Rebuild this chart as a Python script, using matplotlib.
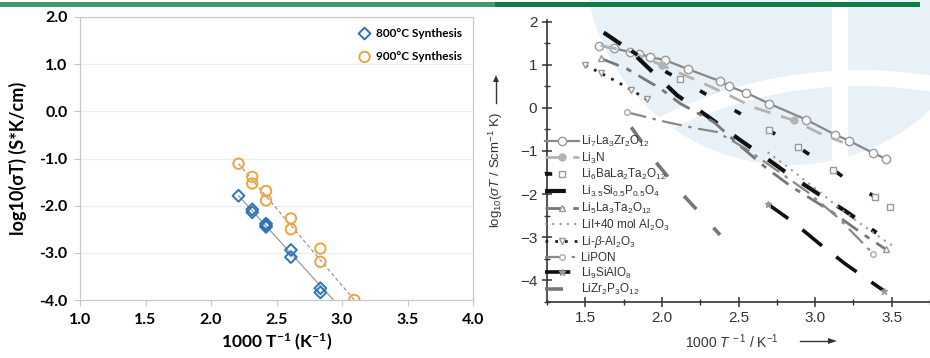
# plot.py - conductivity comparison: own samples (left) vs literature Arrhenius plot (right)
import matplotlib
matplotlib.use('Agg')
import matplotlib.pyplot as plt
from matplotlib.patches import Rectangle, Circle, Wedge
from matplotlib.ticker import MultipleLocator, FormatStrFormatter

W, H = 930, 358
plt.rcParams['mathtext.fontset'] = 'custom'
plt.rcParams['mathtext.rm'] = 'Liberation Sans'
plt.rcParams['mathtext.it'] = 'Liberation Sans:italic'
plt.rcParams['mathtext.bf'] = 'Lato:bold'

# ---- left panel: our synthesis runs ----
x800 = [2.21, 2.315, 2.315, 2.42, 2.42, 2.42, 2.61, 2.61, 2.835, 2.835]
y800 = [-1.79, -2.08, -2.14, -2.38, -2.42, -2.45, -2.94, -3.09, -3.75, -3.84]
x900 = [2.21, 2.315, 2.315, 2.42, 2.42, 2.61, 2.61, 2.835, 2.835, 3.094]
y900 = [-1.11, -1.39, -1.53, -1.69, -1.89, -2.27, -2.50, -2.91, -3.19, -4.00]
fit800_x = [2.21, 2.934]
fit800_y = [-1.79, -4.00]
fit900_x = [2.21, 3.094]
fit900_y = [-1.11, -4.00]

# ---- right panel: literature electrolytes ----
llzo_x = [1.59, 1.69, 1.79, 1.85, 1.92, 2.02, 2.17, 2.38, 2.44, 2.55, 2.70, 2.94, 3.13, 3.22, 3.38, 3.46]
llzo_y = [1.44, 1.38, 1.30, 1.26, 1.18, 1.11, 0.90, 0.62, 0.50, 0.35, 0.10, -0.27, -0.62, -0.76, -1.05, -1.18]
li3n_x = [1.60, 1.80, 2.00, 2.20, 2.40, 2.60, 2.86, 3.03, 3.18]
li3n_y = [1.45, 1.30, 0.99, 0.68, 0.36, 0.01, -0.29, -0.59, -0.80]
li6ba_x = [1.80, 2.04, 2.12, 2.35, 2.61, 2.70, 2.82, 2.89, 3.02, 3.12, 3.24, 3.39, 3.49]
li6ba_y = [1.32, 0.81, 0.66, 0.19, -0.33, -0.52, -0.80, -0.91, -1.22, -1.44, -1.75, -2.06, -2.29]
lisip_x = [1.62, 1.79, 1.97, 2.10, 2.30, 2.50, 2.69, 2.85, 3.04, 3.20, 3.40]
lisip_y = [1.75, 1.34, 0.73, 0.29, -0.20, -0.72, -1.19, -1.60, -2.04, -2.40, -2.90]
li5la_x = [1.60, 1.77, 1.99, 2.12, 2.34, 2.50, 2.69, 2.85, 3.10, 3.30, 3.46]
li5la_y = [1.15, 0.91, 0.45, 0.10, -0.33, -0.85, -1.42, -1.84, -2.39, -2.90, -3.28]
lii_x = [2.69, 2.85, 2.99, 3.15, 3.30, 3.52]
lii_y = [-1.03, -1.45, -1.84, -2.30, -2.70, -3.24]
beta_x = [1.50, 1.60, 1.70, 1.80, 1.90]
beta_y = [0.99, 0.81, 0.62, 0.42, 0.20]
lipon_x = [1.77, 2.03, 2.23, 2.36, 2.55, 2.75, 2.95, 3.15, 3.38]
lipon_y = [-0.10, -0.33, -0.48, -0.56, -0.95, -1.45, -1.95, -2.55, -3.39]
li9_x = [2.69, 2.86, 3.03, 3.20, 3.45]
li9_y = [-2.23, -2.66, -3.16, -3.63, -4.25]
lizr_x = [1.80, 1.97, 2.12, 2.38]
lizr_y = [-0.45, -1.30, -1.95, -2.95]


def px(x, y):
    # top-left pixel -> inches from bottom-left
    return x / 100, (H - y) / 100


fig = plt.figure(figsize=(W / 100, H / 100), dpi=100)
inch = fig.dpi_scale_trans

# green header bar
fig.add_artist(Rectangle(px(0, 7), 4.95, 0.05, transform=inch, color='#3f9d6c', lw=0, zorder=5))
fig.add_artist(Rectangle(px(495, 7), 4.25, 0.05, transform=inch, color='#127a46', lw=0, zorder=5))

# faint logo watermark behind the right figure
fig.add_artist(Circle(px(790, -40), 2.05, transform=inch, color='#e8f0f8', lw=0, zorder=-2))
fig.add_artist(Rectangle(px(832, 175), 0.16, 1.8, transform=inch, color='white', lw=0, zorder=-1))
fig.add_artist(Wedge(px(860, 520), 4.5, 60, 120, width=0.16, transform=inch, color='white', lw=0, zorder=-1))

# ---------------- left axes ----------------
ax = fig.add_axes([80 / W, (H - 300) / H, 393 / W, 283 / H])
bold = dict(family=['Lato', 'DejaVu Sans'], weight='bold')
ax.plot(fit800_x, fit800_y, color='#9a9a9a', lw=0.9, zorder=2)
ax.plot(fit900_x, fit900_y, color='#9a9a9a', lw=0.9, ls=(0, (3, 2)), zorder=2)
ax.scatter(x800, y800, marker='D', s=36, facecolors='none', edgecolors='#2e75b6', lw=1.4,
           label='800°C Synthesis', zorder=3)
ax.scatter(x900, y900, marker='o', s=56, facecolors='none', edgecolors='#f0a33c', lw=1.4,
           label='900°C Synthesis', zorder=3)
ax.set_xlim(1.0, 4.0)
ax.set_ylim(-4.0, 2.0)
ax.xaxis.set_major_locator(MultipleLocator(0.5))
ax.yaxis.set_major_locator(MultipleLocator(1.0))
ax.xaxis.set_major_formatter(FormatStrFormatter('%.1f'))
ax.yaxis.set_major_formatter(FormatStrFormatter('%.1f'))
ax.grid(axis='y', color='#ececec', lw=0.8)
ax.set_axisbelow(True)
for s in ax.spines.values():
    s.set_color('#c8c8c8')
    s.set_linewidth(0.9)
ax.tick_params(length=4, color='#c8c8c8', labelsize=11, pad=5)
for t in ax.get_xticklabels() + ax.get_yticklabels():
    t.set_fontproperties(matplotlib.font_manager.FontProperties(family=['Lato', 'DejaVu Sans'],
                                                                weight='bold', size=11.5))
ax.set_ylabel('log10(σT) (S*K/cm)', fontsize=13, labelpad=9, **bold)
ax.set_xlabel(r'1000 T$^{\mathbf{-1}}$ (K$^{\mathbf{-1}}$)', fontsize=12.5, labelpad=4, **bold)
ax.legend(loc='upper right', frameon=False, handletextpad=0.0, labelspacing=1.05,
          borderaxespad=0.5, prop=dict(family=['Lato', 'DejaVu Sans'], weight='bold', size=8.5))

# ---------------- right axes ----------------
ax2 = fig.add_axes([547 / W, (H - 301.7) / H, 383 / W, 282.1 / H])
ax2.set_facecolor('none')
series = [
    (llzo_x, llzo_y, r'Li$_7$La$_3$Zr$_2$O$_{12}$',
     dict(color='#888888', lw=1.6, ls='-', marker='o', ms=6, mfc='white', mec='#999999', markevery=None)),
    (li3n_x, li3n_y, r'Li$_3$N',
     dict(color='#b3b3b3', lw=2.0, ls=(0, (6, 4)), marker='o', ms=5, mfc='#b3b3b3', mec='#b3b3b3',
          markevery=[2, 6])),
    (li6ba_x, li6ba_y, r'Li$_6$BaLa$_2$Ta$_2$O$_{12}$',
     dict(color='#111111', lw=2.6, ls=(0, (2, 9)), marker='s', ms=4, mfc='white', mec='#999999',
          markevery=[2, 5, 7, 9, 11, 12])),
    (lisip_x, lisip_y, r'Li$_{3.5}$Si$_{0.5}$P$_{0.5}$O$_4$',
     dict(color='#111111', lw=3.0, ls=(0, (5, 5)), marker=None)),
    (li5la_x, li5la_y, r'Li$_5$La$_3$Ta$_2$O$_{12}$',
     dict(color='#777777', lw=2.0, ls=(0, (7, 3, 2, 3)), marker='^', ms=5, mfc='white', mec='#999999',
          markevery=[0, 10])),
    (lii_x, lii_y, r'LiI+40 mol Al$_2$O$_3$',
     dict(color='#999999', lw=1.5, ls=(0, (1, 2.5)), marker=None)),
    (beta_x, beta_y, r'Li-$\beta$-Al$_2$O$_3$',
     dict(color='#222222', lw=2.0, ls=(0, (1, 2.5)), marker='v', ms=5, mfc='white', mec='#999999',
          markevery=[0, 1, 3, 4])),
    (lipon_x, lipon_y, r'LiPON',
     dict(color='#888888', lw=1.6, ls=(0, (9, 3, 1.5, 3)), marker='o', ms=4, mfc='white', mec='#aaaaaa',
          markevery=[0, 8])),
    (li9_x, li9_y, r'Li$_9$SiAlO$_8$',
     dict(color='#111111', lw=2.6, ls=(0, (7, 5)), marker='*', ms=5, mfc='#999999', mec='#999999',
          markevery=[0, 4])),
    (lizr_x, lizr_y, r'LiZr$_2$P$_3$O$_{12}$',
     dict(color='#777777', lw=2.6, ls=(0, (5, 7)), marker=None)),
]
for xs, ys, lab, st in series:
    ax2.plot(xs, ys, label=lab, **st)

ax2.set_xlim(1.25, 3.75)
ax2.set_ylim(-4.5, 2.05)
ax2.xaxis.set_major_locator(MultipleLocator(0.5))
ax2.xaxis.set_minor_locator(MultipleLocator(0.25))
ax2.yaxis.set_major_locator(MultipleLocator(1.0))
ax2.yaxis.set_minor_locator(MultipleLocator(0.5))
ax2.xaxis.set_major_formatter(FormatStrFormatter('%.1f'))
for side in ('top', 'right'):
    ax2.spines[side].set_visible(False)
for side in ('left', 'bottom'):
    ax2.spines[side].set_color('#333333')
    ax2.spines[side].set_linewidth(1.2)
ax2.tick_params(which='major', direction='inout', length=7, width=1.1, color='#333333',
                labelsize=11, labelcolor='#333333', labelfontfamily='Liberation Sans')
ax2.tick_params(which='minor', direction='inout', length=4, width=1.0, color='#333333')
ax2.tick_params(axis='x', pad=3)

leg = ax2.legend(loc='lower left', bbox_to_anchor=(-0.005, 0.015), frameon=False, borderpad=0,
                 borderaxespad=0, handlelength=2.9, handletextpad=0.15, labelspacing=0.14,
                 numpoints=1, prop=dict(family='Liberation Sans', size=8.5))
for t in leg.get_texts():
    t.set_color('#333333')

# axis titles with arrows, as in the source figure
fig.text(*px(496, 170), r'log$_{10}$($\sigma T$ / Scm$^{-1}$ K)', transform=inch, rotation=90,
         ha='center', va='center', fontsize=9.5, family='Liberation Sans', color='#333333')
fig.add_artist(plt.Line2D([4.96, 4.96], [px(0, 103)[1], px(0, 80)[1]], transform=inch,
                          color='#333333', lw=1))
fig.add_artist(plt.Polygon([px(493, 82), px(499, 82), px(496, 75)], closed=True,
                           transform=inch, color='#333333', lw=0))
fig.text(*px(732, 342), r'1000 $T^{\,-1}$ / K$^{-1}$', transform=inch, ha='center', va='center',
         fontsize=10, family='Liberation Sans', color='#333333')
fig.add_artist(plt.Line2D([8.00, 8.30], [px(0, 341)[1]] * 2, transform=inch, color='#333333', lw=1))
fig.add_artist(plt.Polygon([px(828, 338), px(828, 344), px(837, 341)], closed=True,
                           transform=inch, color='#333333', lw=0))

fig.savefig('out.png', dpi=100)
